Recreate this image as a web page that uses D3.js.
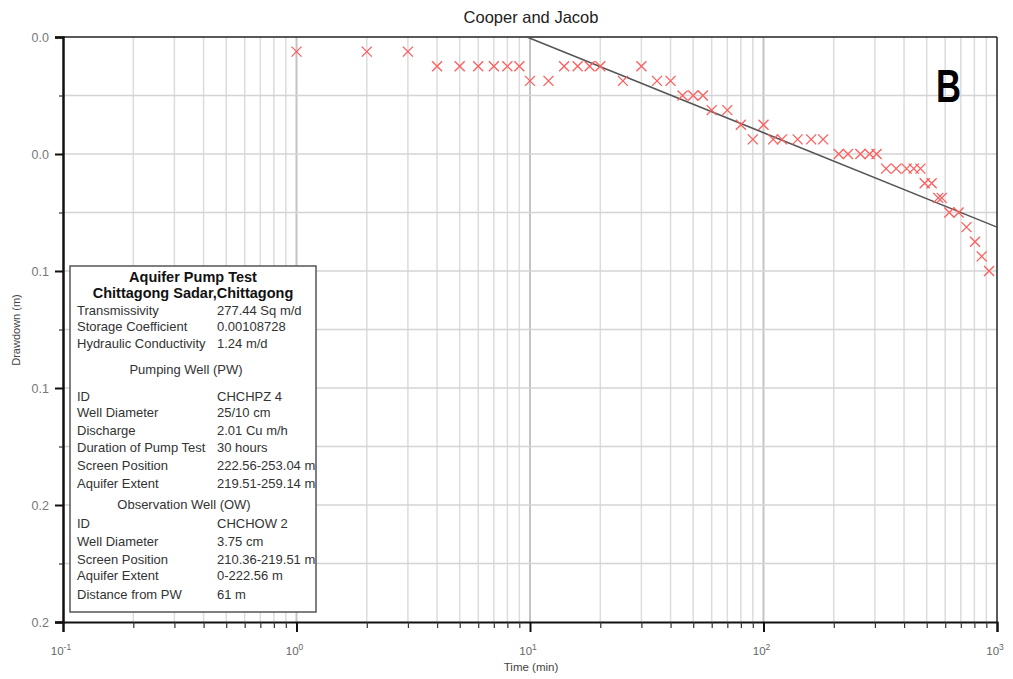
<!DOCTYPE html>
<html>
<head>
<meta charset="utf-8">
<script src="https://cdn.jsdelivr.net/npm/d3@7"></script>
<style>
  body { margin: 0; background: #fff; }
  svg { display: block; font-family: "Liberation Sans", Arial, sans-serif; }
</style>
</head>
<body>
<div class="chart"></div>
<script>
const timeMin = [1, 2, 3, 4, 5, 6, 7, 8, 9, 10, 12, 14, 16, 18, 20, 25, 30, 35, 40,
  45, 50, 55, 60, 70, 80, 90, 100, 110, 120, 140, 160, 180, 210, 230, 260, 285, 305,
  335, 370, 410, 440, 470, 490, 525, 560, 580, 625, 685, 740, 805, 860, 925]
const drawdown = [0.005, 0.005, 0.005, 0.010, 0.010, 0.010, 0.010, 0.010, 0.010, 0.015, 0.015, 0.010, 0.010, 0.010, 0.010, 0.015, 0.010, 0.015, 0.015,
  0.020, 0.020, 0.020, 0.025, 0.025, 0.030, 0.035, 0.030, 0.035, 0.035, 0.035, 0.035, 0.035, 0.040, 0.040, 0.040, 0.040, 0.040,
  0.045, 0.045, 0.045, 0.045, 0.045, 0.050, 0.050, 0.055, 0.055, 0.060, 0.060, 0.065, 0.070, 0.075, 0.080]

// fitted Cooper-Jacob straight line
const fitTime = [9.7, 1000]
const fitDrawdown = [0, 0.065]

const xMajorTicks = [0.1, 1, 10, 100, 1000]
const xTickExp = ["-1", "0", "1", "2", "3"]
const yMajorTicks = [0, 0.04, 0.08, 0.12, 0.16, 0.2]
const yMinorTicks = [0.02, 0.06, 0.1, 0.14, 0.18]

const infoTitle = ["Aquifer Pump Test", "Chittagong Sadar,Chittagong"]
const aquiferLabels = ["Transmissivity", "Storage Coefficient", "Hydraulic Conductivity"]
const aquiferValues = ["277.44 Sq m/d", "0.00108728", "1.24 m/d"]
const pwLabels = ["ID", "Well Diameter", "Discharge", "Duration of Pump Test", "Screen Position", "Aquifer Extent"]
const pwValues = ["CHCHPZ 4", "25/10 cm", "2.01 Cu m/h", "30 hours", "222.56-253.04 m", "219.51-259.14 m"]
const owLabels = ["ID", "Well Diameter", "Screen Position", "Aquifer Extent", "Distance from PW"]
const owValues = ["CHCHOW 2", "3.75 cm", "210.36-219.51 m", "0-222.56 m", "61 m"]

const width = 1013, height = 679
const margin = { top: 37, right: 16, bottom: 57, left: 63 }

const svg = d3.select('.chart').append('svg')
    .attr('width', width)
    .attr('height', height)

const x = d3.scaleLog()
    .domain([0.1, 1000])
    .range([margin.left, width - margin.right])
const y = d3.scaleLinear()
    .domain([0, 0.2])
    .range([margin.top, height - margin.bottom])

const x0 = x.range()[0], x1 = x.range()[1]
const y0 = y.range()[0], y1 = y.range()[1]

// grid
const xMinor = x.ticks().filter(d => !xMajorTicks.includes(d))
svg.append('g').selectAll('line')
    .data(xMinor)
    .enter().append('line')
    .attr('x1', d => x(d)).attr('x2', d => x(d))
    .attr('y1', y0).attr('y2', y1)
    .attr('stroke', '#dcdcdc').attr('stroke-width', 1.5)
svg.append('g').selectAll('line')
    .data(xMajorTicks.slice(1, -1))
    .enter().append('line')
    .attr('x1', d => x(d)).attr('x2', d => x(d))
    .attr('y1', y0).attr('y2', y1)
    .attr('stroke', '#c4c4c4').attr('stroke-width', 2)
svg.append('g').selectAll('line')
    .data(yMajorTicks.slice(1, -1).concat(yMinorTicks))
    .enter().append('line')
    .attr('x1', x0).attr('x2', x1)
    .attr('y1', d => y(d)).attr('y2', d => y(d))
    .attr('stroke', '#d4d4d4').attr('stroke-width', 1.5)

// frame
svg.append('line').attr('x1', x0).attr('x2', x1).attr('y1', y0).attr('y2', y0)
    .attr('stroke', '#222').attr('stroke-width', 1.5)
svg.append('line').attr('x1', x1).attr('x2', x1).attr('y1', y0).attr('y2', y1)
    .attr('stroke', '#222').attr('stroke-width', 1.5)

// x axis
const xAxis = svg.append('g')
    .attr('transform', `translate(0,${y1})`)
    .call(d3.axisBottom(x).tickValues(xMajorTicks).tickSize(10).tickFormat(''))
xAxis.select('.domain').attr('stroke', '#111').attr('stroke-width', 2)
xAxis.selectAll('.tick line').attr('stroke', '#111').attr('stroke-width', 2)
svg.append('g')
    .attr('transform', `translate(0,${y1})`)
    .call(d3.axisBottom(x).tickValues(xMinor).tickSize(6).tickFormat(''))
    .call(g => g.select('.domain').remove())
    .selectAll('.tick line').attr('stroke', '#333').attr('stroke-width', 1.2)

const xLab = svg.append('g').selectAll('text')
    .data(xMajorTicks)
    .enter().append('text')
    .attr('x', d => x(d) - 2)
    .attr('y', y1 + 33)
    .attr('text-anchor', 'middle')
    .attr('font-size', 11.5)
    .attr('fill', '#666')
xLab.append('tspan').text('10')
xLab.append('tspan')
    .attr('dy', -5)
    .attr('font-size', 8.5)
    .text((d, i) => xTickExp[i])

// y axis
const yAxis = svg.append('g')
    .attr('transform', `translate(${x0},0)`)
    .call(d3.axisLeft(y).tickValues(yMajorTicks).tickSize(8).tickPadding(6).tickFormat(d3.format('.1f')))
yAxis.select('.domain').attr('stroke', '#111').attr('stroke-width', 2.5)
yAxis.selectAll('.tick line').attr('stroke', '#111').attr('stroke-width', 2)
yAxis.selectAll('.tick text')
    .attr('font-size', 12.5)
    .attr('fill', '#777')
    .attr('font-family', '"Liberation Sans", Arial, sans-serif')
svg.append('g')
    .attr('transform', `translate(${x0},0)`)
    .call(d3.axisLeft(y).tickValues(yMinorTicks).tickSize(4).tickFormat(''))
    .call(g => g.select('.domain').remove())
    .selectAll('.tick line').attr('stroke', '#333').attr('stroke-width', 1.2)

// titles
svg.append('text')
    .attr('x', 531).attr('y', 23)
    .attr('text-anchor', 'middle')
    .attr('font-size', 16.5)
    .attr('fill', '#222')
    .text('Cooper and Jacob')
svg.append('text')
    .attr('x', 531).attr('y', 671)
    .attr('text-anchor', 'middle')
    .attr('font-size', 11.5)
    .attr('fill', '#444')
    .text('Time (min)')
svg.append('text')
    .attr('transform', 'translate(20,330) rotate(-90)')
    .attr('text-anchor', 'middle')
    .attr('font-size', 11)
    .attr('fill', '#444')
    .text('Drawdown (m)')
svg.append('text')
    .attr('x', 936).attr('y', 102)
    .attr('font-size', 46)
    .attr('font-weight', 'bold')
    .attr('fill', '#000')
    .attr('textLength', 25)
    .attr('lengthAdjust', 'spacingAndGlyphs')
    .text('B')

// fitted line
const line = d3.line()
    .x(d => x(d[0]))
    .y(d => y(d[1]))
svg.append('path')
    .datum(d3.zip(fitTime, fitDrawdown))
    .attr('d', line)
    .attr('fill', 'none')
    .attr('stroke', '#555')
    .attr('stroke-width', 1.5)

// observed points as crosses
const s = 5
svg.append('g').selectAll('path')
    .data(d3.zip(timeMin, drawdown))
    .enter().append('path')
    .attr('transform', d => `translate(${x(d[0])},${y(d[1])})`)
    .attr('d', `M${-s},${-s}L${s},${s}M${-s},${s}L${s},${-s}`)
    .attr('stroke', '#ff5c5c')
    .attr('stroke-width', 1.3)
    .attr('fill', 'none')

// info box
const box = { x: 70, y: 266, w: 246, h: 346 }
svg.append('clipPath').attr('id', 'boxclip')
    .append('rect').attr('x', box.x).attr('y', box.y).attr('width', box.w).attr('height', box.h)
svg.append('rect')
    .attr('x', box.x).attr('y', box.y).attr('width', box.w).attr('height', box.h)
    .attr('fill', '#fff').attr('stroke', '#555').attr('stroke-width', 1.5)
const info = svg.append('g').attr('clip-path', 'url(#boxclip)')
    .attr('font-size', 13).attr('fill', '#333')

info.selectAll('.ttl')
    .data(infoTitle)
    .enter().append('text')
    .attr('x', 193).attr('y', (d, i) => 282 + i * 16)
    .attr('text-anchor', 'middle')
    .attr('font-size', 14.5)
    .attr('font-weight', 'bold')
    .attr('fill', '#111')
    .text(d => d)

function rows(labels, values, ys) {
    labels.forEach((l, i) => {
        info.append('text').attr('x', 77).attr('y', ys[i]).text(l)
        info.append('text').attr('x', 217).attr('y', ys[i]).text(values[i])
    })
}
rows(aquiferLabels, aquiferValues, [315, 331, 348])
info.append('text').attr('x', 186).attr('y', 374).attr('text-anchor', 'middle').text('Pumping Well (PW)')
rows(pwLabels, pwValues, [401, 417, 435, 452, 470, 488])
info.append('text').attr('x', 184).attr('y', 509).attr('text-anchor', 'middle').text('Observation Well (OW)')
rows(owLabels, owValues, [528, 546, 564, 580, 599])
</script>
</body>
</html>
